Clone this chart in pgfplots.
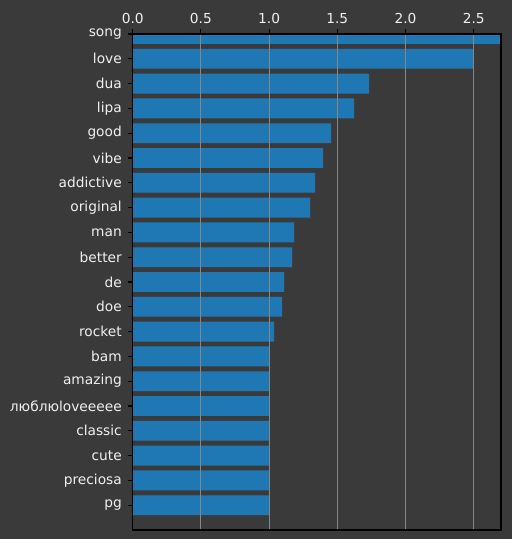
\documentclass[border=0pt]{standalone}
\usepackage{fontspec}
\setmainfont{DejaVu Sans}
\usepackage{pgfplots}
\pgfplotsset{compat=1.18}
\definecolor{bg}{RGB}{58,58,58}
\definecolor{barc}{RGB}{31,119,180}
\definecolor{gridc}{RGB}{135,135,135}
\definecolor{txt}{RGB}{240,240,240}
\begin{document}
\begin{tikzpicture}
\fill[bg] (0bp,0bp) rectangle (512bp,539bp);
\begin{axis}[
  at={(132.7bp,9bp)}, anchor=south west,
  width=368.3bp, height=496bp, scale only axis,
  xbar, bar width=0.8, y dir=reverse,
  xmin=0, xmax=2.70, ymin=0, ymax=20,
  ytick={0,...,19},
  yticklabels={song,love,dua,lipa,good,vibe,addictive,original,man,better,de,doe,rocket,bam,amazing,люблюloveeeee,classic,cute,preciosa,pg},
  xtick={0,0.5,1,1.5,2,2.5},
  xticklabels={0.0,0.5,1.0,1.5,2.0,2.5},
  xtick pos=upper, xticklabel pos=upper,
  ytick pos=left,
  tick align=outside, major tick length=4.9bp,
  tick style={black, line width=1.1bp},
  axis line style={black, line width=1.1bp},
  xmajorgrids, grid style={gridc, line width=1bp},
  axis on top,
  tick label style={font=\fontsize{13.8}{16}\selectfont, text=txt},
  xticklabel style={yshift=2bp},
  yticklabel style={xshift=-2.5bp},
]
\addplot[fill=barc, draw=none] coordinates {
(2.70,0) (2.50,1) (1.734,2) (1.624,3) (1.455,4) (1.396,5) (1.337,6) (1.300,7)
(1.184,8) (1.169,9) (1.110,10) (1.095,11) (1.037,12) (1.002,13) (0.998,14)
(0.998,15) (0.998,16) (0.998,17) (0.998,18) (0.998,19)};
\end{axis}
\end{tikzpicture}
\end{document}
